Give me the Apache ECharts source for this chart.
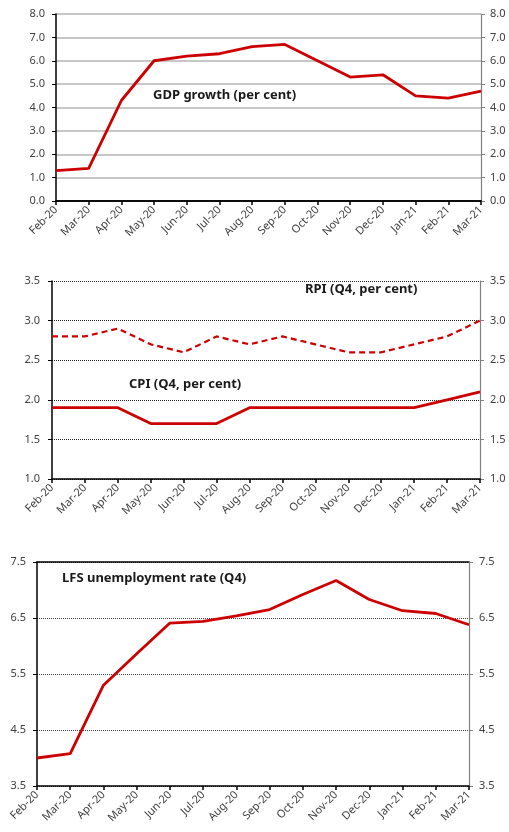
<!DOCTYPE html>
<html>
<head>
<meta charset="utf-8">
<script src="https://cdn.jsdelivr.net/npm/echarts@6/dist/echarts.min.js"></script>
<style>
  html, body { margin: 0; padding: 0; background: #fff; }
  #chart { width: 509px; height: 832px; }
</style>
</head>
<body>
<div id="chart"></div>
<script>
var months = ['Feb-20','Mar-20','Apr-20','May-20','Jun-20','Jul-20','Aug-20','Sep-20','Oct-20','Nov-20','Dec-20','Jan-21','Feb-21','Mar-21'];
var gdp = [1.3, 1.4, 4.3, 6.0, 6.2, 6.3, 6.6, 6.7, 6.0, 5.3, 5.4, 4.5, 4.4, 4.7];
var rpi = [2.8, 2.8, 2.9, 2.7, 2.6, 2.8, 2.7, 2.8, 2.7, 2.6, 2.6, 2.7, 2.8, 3.0];
var cpi = [1.9, 1.9, 1.9, 1.7, 1.7, 1.7, 1.9, 1.9, 1.9, 1.9, 1.9, 1.9, 2.0, 2.1];
var lfs = [4.0, 4.08, 5.3, 5.86, 6.41, 6.44, 6.54, 6.65, 6.92, 7.17, 6.83, 6.63, 6.58, 6.38];

var red = '#cc0000';
var font = 'Noto Sans';
var labCol = '#404040';

function xBottom(gi) {
  return {
    type: 'category', gridIndex: gi, data: months, boundaryGap: false,
    axisLine: { lineStyle: { color: '#000', width: 1.5 } },
    axisTick: { show: true, length: 4, lineStyle: { color: '#000', width: 1.5 }, alignWithLabel: true },
    axisLabel: { rotate: 45, fontSize: 11, color: labCol, fontFamily: font, margin: 7, interval: 0 },
    splitLine: { show: false }
  };
}
function xTop(gi, show) {
  return {
    type: 'category', gridIndex: gi, data: months, boundaryGap: false, position: 'top',
    axisLine: { show: show, lineStyle: { color: '#000', width: 1.5 } },
    axisTick: { show: false }, axisLabel: { show: false }, splitLine: { show: false }
  };
}
// left + right value axes for one panel
function yAxes(gi, min, max, step, lm, rm, split) {
  var fmt = function (v) { return v.toFixed(1); };
  return [{
    type: 'value', gridIndex: gi, min: min, max: max, interval: step, position: 'left',
    axisLine: { show: true, lineStyle: { color: '#000', width: 1.5 } },
    axisTick: { show: true, length: 4, lineStyle: { color: '#000' } },
    axisLabel: { fontSize: 11, color: labCol, fontFamily: font, margin: lm, formatter: fmt },
    splitLine: split
  }, {
    type: 'value', gridIndex: gi, min: min, max: max, interval: step, position: 'right',
    axisLine: { show: true, lineStyle: { color: '#808080', width: 1.2 } },
    axisTick: { show: true, length: 4, lineStyle: { color: '#808080' } },
    axisLabel: { fontSize: 11, color: labCol, fontFamily: font, margin: rm, formatter: fmt },
    splitLine: { show: false }
  }];
}

var chart = echarts.init(document.getElementById('chart'));
chart.setOption({
  animation: false,
  grid: [
    { left: 56, top: 14, width: 425, height: 187 },
    { left: 52, top: 281, width: 428, height: 198 },
    { left: 37, top: 562, width: 432, height: 224 }
  ],
  xAxis: [xBottom(0), xTop(0, true), xBottom(1), xTop(1, false), xBottom(2), xTop(2, true)],
  yAxis: [].concat(
    yAxes(0, 0, 8, 1, 11, 9, { show: true, lineStyle: { color: '#b4b4b4', width: 1.5 } }),
    yAxes(1, 1, 3.5, 0.5, 12, 10, { show: true, lineStyle: { color: '#222', type: 'dotted', width: 1 } }),
    yAxes(2, 3.5, 7.5, 1, 11, 10, { show: true, lineStyle: { color: '#444', type: 'dotted', width: 1 } })
  ),
  series: [
    { type: 'line', xAxisIndex: 0, yAxisIndex: 0, data: gdp, showSymbol: false, lineStyle: { color: red, width: 2.8 } },
    { type: 'line', xAxisIndex: 2, yAxisIndex: 2, data: rpi, showSymbol: false, lineStyle: { color: red, width: 2.2, type: [6, 4] } },
    { type: 'line', xAxisIndex: 2, yAxisIndex: 2, data: cpi, showSymbol: false, lineStyle: { color: red, width: 2.8 } },
    { type: 'line', xAxisIndex: 4, yAxisIndex: 4, data: lfs, showSymbol: false, lineStyle: { color: red, width: 2.8 } }
  ],
  graphic: [
    { type: 'text', left: 153, top: 89, style: { text: 'GDP growth (per cent)', font: 'bold 13px "Noto Sans"', fill: '#1a1a1a' } },
    { type: 'text', left: 305, top: 283, style: { text: 'RPI (Q4, per cent)', font: 'bold 13px "Noto Sans"', fill: '#1a1a1a' } },
    { type: 'text', left: 129, top: 378, style: { text: 'CPI (Q4, per cent)', font: 'bold 13px "Noto Sans"', fill: '#1a1a1a' } },
    { type: 'text', left: 62, top: 572, style: { text: 'LFS unemployment rate (Q4)', font: 'bold 13px "Noto Sans"', fill: '#1a1a1a' } }
  ]
});
</script>
</body>
</html>
